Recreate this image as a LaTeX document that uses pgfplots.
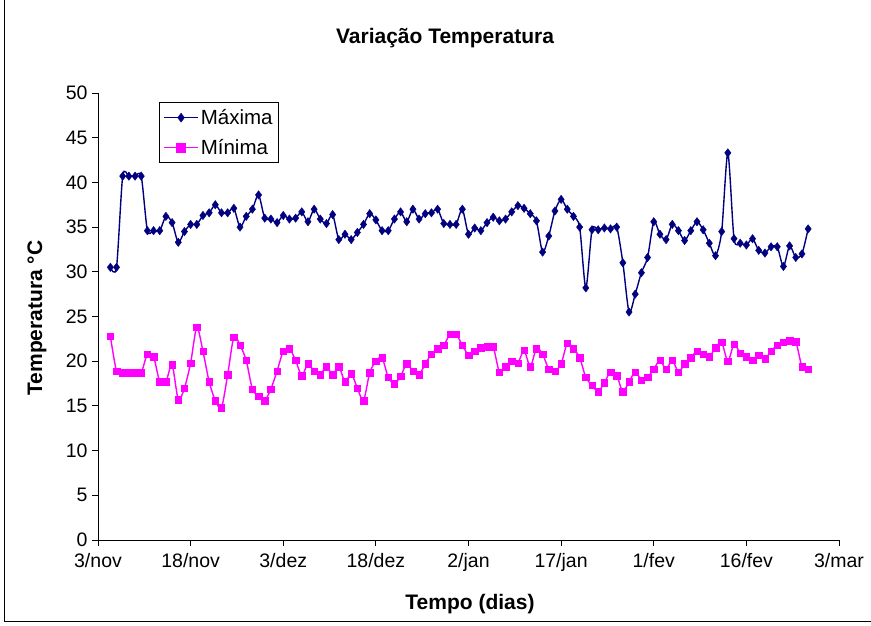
\documentclass[border=0pt]{standalone}
\usepackage{pgfplots}
\pgfplotsset{compat=1.18}
\usepackage{pgfplotstable}
\usepackage{fontspec}
\setmainfont{Liberation Sans}

\definecolor{maxblue}{HTML}{000080}
\definecolor{minmag}{HTML}{FF00FF}

% day 0 = 3/nov
\pgfplotstableread{
d  t
2  30.5
3  30.5
4  40.7
5  40.7
6  40.7
7  40.7
8  34.6
9  34.6
10 34.6
11 36.2
12 35.5
13 33.3
14 34.5
15 35.3
16 35.3
17 36.3
18 36.6
19 37.5
20 36.6
21 36.6
22 37.1
23 35.0
24 36.2
25 37.0
26 38.6
27 36.0
28 35.9
29 35.5
30 36.3
31 35.9
32 36.0
33 36.7
34 35.6
35 37.0
36 35.9
37 35.4
38 36.4
39 33.6
40 34.2
41 33.6
42 34.4
43 35.3
44 36.5
45 35.8
46 34.6
47 34.6
48 35.9
49 36.7
50 35.6
51 37.0
52 35.9
53 36.5
54 36.6
55 37.0
56 35.4
57 35.3
58 35.3
59 37.0
60 34.2
61 34.9
62 34.6
63 35.5
64 36.1
65 35.7
66 35.9
67 36.7
68 37.4
69 37.1
70 36.5
71 35.7
72 32.2
73 34.0
74 36.8
75 38.1
76 37.0
77 36.2
78 35.0
79 28.2
80 34.7
81 34.7
82 34.9
83 34.8
84 35.0
85 31.0
86 25.5
87 27.5
88 29.9
89 31.6
90 35.6
91 34.2
92 33.6
93 35.3
94 34.6
95 33.5
96 34.6
97 35.6
98 34.7
99 33.2
100 31.8
101 34.5
102 43.3
103 33.7
104 33.2
105 33.0
106 33.7
107 32.4
108 32.1
109 32.8
110 32.8
111 30.6
112 32.9
113 31.6
114 32.0
115 34.8
}\maxima

\pgfplotstableread{
d  t
2  22.8
3  18.9
4  18.7
5  18.7
6  18.7
7  18.7
8  20.8
9  20.5
10 17.7
11 17.7
12 19.6
13 15.7
14 17.0
15 19.8
16 23.8
17 21.1
18 17.7
19 15.6
20 14.8
21 18.5
22 22.7
23 21.8
24 20.1
25 16.9
26 16.1
27 15.6
28 16.9
29 18.9
30 21.1
31 21.4
32 20.1
33 18.4
34 19.7
35 18.9
36 18.5
37 19.4
38 18.5
39 19.4
40 17.7
41 18.6
42 17.0
43 15.6
44 18.7
45 20.0
46 20.4
47 18.2
48 17.5
49 18.3
50 19.7
51 18.9
52 18.5
53 19.7
54 20.8
55 21.4
56 21.8
57 23.0
58 23.0
59 21.8
60 20.7
61 21.1
62 21.5
63 21.6
64 21.6
65 18.8
66 19.4
67 20.0
68 19.8
69 21.2
70 19.4
71 21.4
72 20.8
73 19.1
74 18.9
75 19.7
76 22.0
77 21.4
78 20.4
79 18.2
80 17.3
81 16.6
82 17.6
83 18.8
84 18.4
85 16.6
86 17.7
87 18.8
88 17.9
89 18.2
90 19.1
91 20.1
92 19.1
93 20.1
94 18.8
95 19.7
96 20.4
97 21.1
98 20.8
99 20.5
100 21.5
101 22.1
102 20.0
103 21.9
104 20.9
105 20.5
106 20.1
107 20.7
108 20.3
109 21.1
110 21.8
111 22.1
112 22.3
113 22.2
114 19.4
115 19.1
}\minima

\begin{document}
\begin{tikzpicture}
\useasboundingbox (-98pt,-86pt) rectangle (773pt,540pt);
% chart area border (left and bottom edges visible)
\draw[black, line width=0.8pt] (-94pt,540pt) -- (-94pt,-81pt) -- (773pt,-81pt);
\begin{axis}[
  scale only axis,
  width=741pt, height=447pt,
  xmin=0, xmax=120, ymin=0, ymax=50,
  axis lines=left,
  axis line style={-, line width=0.8pt},
  xtick={0,15,...,120},
  xticklabels={3/nov,18/nov,3/dez,18/dez,2/jan,17/jan,1/fev,16/fev,3/mar},
  ytick={0,5,...,50},
  tick align=outside,
  major tick length=6pt,
  tick style={black, line width=0.8pt},
  ticklabel style={font=\fontsize{19.5}{22}\selectfont},
  xticklabel style={yshift=-4pt},
  yticklabel style={xshift=-1pt},
  /pgf/number format/assume math mode=true,
  legend style={at={(rel axis cs:0.0823,0.98)}, anchor=north west,
    font=\fontsize{20.5}{24}\selectfont, draw=black, line width=0.8pt,
    inner xsep=4pt, inner ysep=5pt, row sep=9pt,
    /tikz/every even column/.append style={column sep=3pt}},
  legend image code/.code={
    \draw[#1] (0pt,0pt) -- (17pt,0pt) -- (34pt,0pt);
    \draw[#1, only marks, mark size=4.5pt] plot coordinates {(17pt,0pt)};
  },
  legend cell align=left,
  clip=false,
]
\addplot[maxblue, line width=1.4pt, smooth, tension=0.45,
  mark=diamond*, mark size=4.2pt, mark options={solid, fill=maxblue, line width=0.4pt}]
  table[x=d, y=t] {\maxima};
\addlegendentry{Máxima}
\addplot[minmag, line width=1.4pt, smooth, tension=0.45,
  mark=square*, mark size=3.2pt, mark options={solid, fill=minmag, line width=0.4pt}]
  table[x=d, y=t] {\minima};
\addlegendentry{Mínima}
\end{axis}
\node[font=\bfseries\fontsize{21}{25}\selectfont] at (347pt,502pt) {Variação Temperatura};
\node[font=\bfseries\fontsize{21}{25}\selectfont] at (372pt,-64pt) {Tempo (dias)};
\node[font=\bfseries\fontsize{21}{25}\selectfont, rotate=90] at (-61pt,222pt) {Temperatura °C};
\end{tikzpicture}
\end{document}
